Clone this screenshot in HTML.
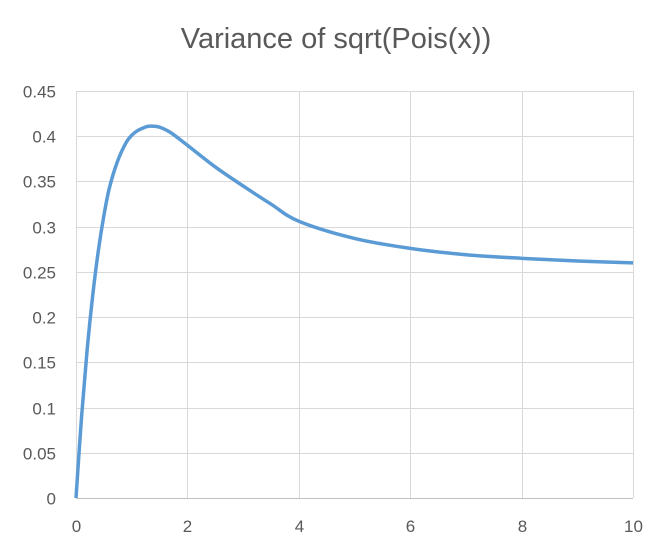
<!DOCTYPE html>
<html><head><meta charset="utf-8"><style>
body{margin:0;background:#fff;}
svg{display:block;font-family:"Liberation Sans",sans-serif;}
</style></head><body>
<svg width="666" height="551">
<text x="336" y="48" text-anchor="middle" font-size="29" fill="#595959">Variance of sqrt(Pois(x))</text>
<g id="grid"></g>
<g id="yt"></g>
<g id="xt"></g>
<path id="line" fill="none" stroke="#5b9bd5" stroke-width="3.5" stroke-linejoin="round"/>
</svg>
<script>
const xValues=[0,0.1,0.2,0.3,0.4,0.5,0.6,0.75,0.9,1,1.1,1.2,1.3,1.4,1.5,1.7,2,2.5,3,3.5,4,5,6,7,8,9,10];
const yValues=[0,0.09,0.164,0.224,0.273,0.312,0.343,0.373,0.393,0.401,0.406,0.409,0.411,0.411,0.41,0.404,0.39,0.366,0.345,0.325,0.306,0.287,0.276,0.269,0.265,0.262,0.26];
const yTicks=[0,0.05,0.1,0.15,0.2,0.25,0.3,0.35,0.4,0.45];
const xTicks=[0,2,4,6,8,10];
const X0=76,X1=633,Y0=498,Y1=91;
const sx=v=>X0+(v-0)/10*(X1-X0);
const sy=v=>Y0-(v/0.45)*(Y0-Y1);
const NS="http://www.w3.org/2000/svg";
const grid=document.getElementById('grid'),yt=document.getElementById('yt'),xt=document.getElementById('xt');
function ln(x1,y1,x2,y2,c){const l=document.createElementNS(NS,'line');l.setAttribute('x1',x1);l.setAttribute('y1',y1);l.setAttribute('x2',x2);l.setAttribute('y2',y2);l.setAttribute('stroke',c);l.setAttribute('stroke-width',1);return l;}
yTicks.forEach(t=>{const y=Math.round(sy(t))+0.5;
const l=ln(X0,y,X1,y,t===0?'#bfbfbf':'#d9d9d9');


grid.appendChild(l);
const tx=document.createElementNS(NS,'text');tx.setAttribute('x',56);tx.setAttribute('y',y+6);tx.setAttribute('text-anchor','end');tx.setAttribute('font-size','17');tx.setAttribute('fill','#595959');tx.textContent=String(t);


yt.appendChild(tx);});
xTicks.forEach(t=>{const x=Math.round(sx(t))+0.5;
const l=ln(x,Y1,x,Y0,'#d9d9d9');


grid.appendChild(l);
const tx=document.createElementNS(NS,'text');tx.setAttribute('x',x);tx.setAttribute('y',532);tx.setAttribute('text-anchor','middle');tx.setAttribute('font-size','17');tx.setAttribute('fill','#595959');tx.textContent=String(t);


xt.appendChild(tx);});
const P=xValues.map((v,i)=>[sx(v),sy(yValues[i])]);
let d='M'+P[0][0]+','+P[0][1];
for(let i=0;i<P.length-1;i++){const p0=P[i-1]||P[i],p1=P[i],p2=P[i+1],p3=P[i+2]||p2;
d+=' C'+(p1[0]+(p2[0]-p0[0])/6)+','+(p1[1]+(p2[1]-p0[1])/6)+' '+(p2[0]-(p3[0]-p1[0])/6)+','+(p2[1]-(p3[1]-p1[1])/6)+' '+p2[0]+','+p2[1];}
document.getElementById('line').setAttribute('d',d);
</script>
</body></html>
